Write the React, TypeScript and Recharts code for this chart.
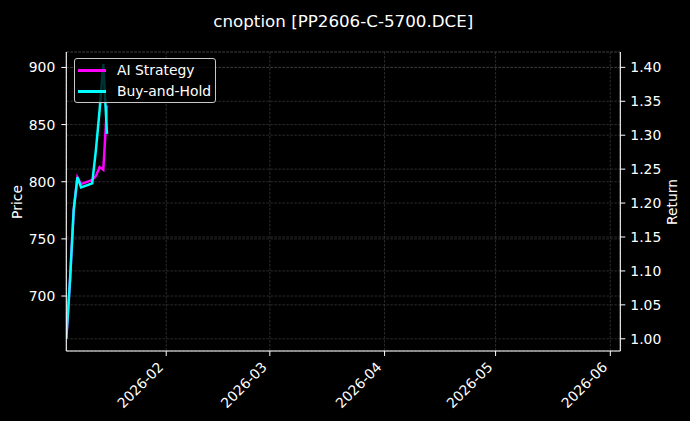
import React from "react";
import { LineChart, Line, XAxis, YAxis, CartesianGrid } from "recharts";

// ---- data ----
const dates = [
  "2026-01-05", "2026-01-06", "2026-01-07", "2026-01-08", "2026-01-09",
  "2026-01-12", "2026-01-13", "2026-01-14", "2026-01-15", "2026-01-16",
];
const aiStrategy = [1.0, 1.086, 1.19, 1.238, 1.228, 1.234, 1.24, 1.253, 1.249, 1.344];
const buyAndHold = [1.0, 1.086, 1.19, 1.238, 1.223, 1.229, 1.278, 1.337, 1.405, 1.302];
const xTickDates = ["2026-02-01", "2026-03-01", "2026-04-01", "2026-05-01", "2026-06-01"];
const priceTicks = [700, 750, 800, 850, 900];
const returnTicks = [1.0, 1.05, 1.1, 1.15, 1.2, 1.25, 1.3, 1.35, 1.4];
const series = [
  { key: "ai", name: "AI Strategy", color: "#ff00ff" },
  { key: "bh", name: "Buy-and-Hold", color: "#00ffff" },
];

const DAY = 86400000;
const toMs = (s: string) => {
  const [y, m, d] = s.split("-").map(Number);
  return Date.UTC(y, m - 1, d);
};

const rows = dates.map((d, i) => ({ t: toMs(d), ai: aiStrategy[i], bh: buyAndHold[i] }));
const xTicks = xTickDates.map(toMs);
const xDomain = [toMs(dates[0]), toMs(dates[0]) + 149.7 * DAY];
const priceDomain = [651.9, 913.5];
const returnDomain = [0.982, 1.4226];

const FONT = "'DejaVu Sans', sans-serif";
const FS = 13.9;

const fmtMonth = (v: number) => {
  const d = new Date(v);
  return `${d.getUTCFullYear()}-${String(d.getUTCMonth() + 1).padStart(2, "0")}`;
};

const DateTick = (props: any) => {
  const { x, y, payload } = props;
  return (
    <g transform={`translate(${x - 2},${y + 10})`}>
      <text
        textAnchor="end"
        transform="rotate(-45)"
        fill="#ffffff"
        fontSize={FS}
        fontFamily={FONT}
      >
        {fmtMonth(payload.value)}
      </text>
    </g>
  );
};

export default function App() {
  const gridProps = {
    stroke: "#484848",
    strokeDasharray: "2.6 1.4",
    strokeWidth: 0.6,
    fill: "none",
  };
  const tickStyle = { fill: "#ffffff", fontSize: FS, fontFamily: FONT };
  return (
    <div
      style={{
        position: "absolute",
        left: 0,
        top: 0,
        width: 690,
        height: 421,
        background: "#000000",
        overflow: "hidden",
        fontFamily: FONT,
      }}
    >
      <LineChart
        width={690}
        height={421}
        data={rows}
        margin={{ top: 52, right: 0, bottom: 0, left: 0 }}
        style={{ background: "#000000" }}
      >
        <CartesianGrid xAxisId="x" yAxisId="price" {...gridProps} />
        <CartesianGrid xAxisId="x" yAxisId="ret" vertical={false} {...gridProps} />
        <XAxis
          xAxisId="x"
          dataKey="t"
          type="number"
          domain={xDomain}
          allowDataOverflow
          ticks={xTicks}
          interval={0}
          height={70}
          tickSize={5}
          tick={<DateTick />}
          axisLine={{ stroke: "#ffffff", strokeWidth: 1.1 }}
          tickLine={{ stroke: "#ffffff", strokeWidth: 1 }}
        />
        <XAxis
          xAxisId="top"
          dataKey="t"
          type="number"
          orientation="top"
          domain={xDomain}
          allowDataOverflow
          height={0}
          tick={false}
          tickLine={false}
          axisLine={{ stroke: "#ffffff", strokeWidth: 1.1 }}
        />
        <YAxis
          yAxisId="price"
          orientation="left"
          type="number"
          width={66.3}
          domain={priceDomain}
          allowDataOverflow
          ticks={priceTicks}
          interval={0}
          tickSize={5}
          tickMargin={6}
          tick={tickStyle}
          axisLine={{ stroke: "#ffffff", strokeWidth: 1.1 }}
          tickLine={{ stroke: "#ffffff", strokeWidth: 1 }}
        />
        <YAxis
          yAxisId="ret"
          orientation="right"
          type="number"
          width={69.7}
          domain={returnDomain}
          allowDataOverflow
          ticks={returnTicks}
          interval={0}
          tickSize={5}
          tickMargin={5}
          tick={tickStyle}
          tickFormatter={(v: number) => v.toFixed(2)}
          axisLine={{ stroke: "#ffffff", strokeWidth: 1.1 }}
          tickLine={{ stroke: "#ffffff", strokeWidth: 1 }}
        />
        {series.map((s) => (
          <Line
            key={s.key}
            xAxisId="x"
            yAxisId="ret"
            type="linear"
            dataKey={s.key}
            name={s.name}
            stroke={s.color}
            strokeWidth={2.5}
            dot={false}
            activeDot={false}
            isAnimationActive={false}
          />
        ))}
      </LineChart>

      {/* title and axis labels */}
      <svg
        width={690}
        height={421}
        style={{ position: "absolute", left: 0, top: 0, pointerEvents: "none" }}
      >
        <text x={343.3} y={26.5} textAnchor="middle" fill="#ffffff" fontSize={16.7} fontFamily={FONT}>
          cnoption [PP2606-C-5700.DCE]
        </text>
        <text
          x={21.5}
          y={202}
          textAnchor="middle"
          fill="#ffffff"
          fontSize={FS}
          fontFamily={FONT}
          transform="rotate(-90 21.5 202)"
        >
          Price
        </text>
        <text
          x={677}
          y={202}
          textAnchor="middle"
          fill="#ffffff"
          fontSize={FS}
          fontFamily={FONT}
          transform="rotate(-90 677 202)"
        >
          Return
        </text>
      </svg>

      {/* legend */}
      <div
        style={{
          position: "absolute",
          left: 74,
          top: 58,
          width: 142,
          height: 45,
          border: "1px solid #c8c8c8",
          borderRadius: 3,
          background: "rgba(0,0,0,0.8)",
          boxSizing: "border-box",
        }}
      >
        {series.map((s, i) => (
          <div key={s.key}>
            <div
              style={{
                position: "absolute",
                left: 3,
                top: 10 + i * 21.4,
                width: 28,
                height: 2.6,
                background: s.color,
              }}
            />
            <div
              style={{
                position: "absolute",
                left: 42,
                top: 1.5 + i * 21.4,
                color: "#ffffff",
                fontSize: FS,
                fontFamily: FONT,
                lineHeight: "18px",
                whiteSpace: "nowrap",
              }}
            >
              {s.name}
            </div>
          </div>
        ))}
      </div>
    </div>
  );
}
